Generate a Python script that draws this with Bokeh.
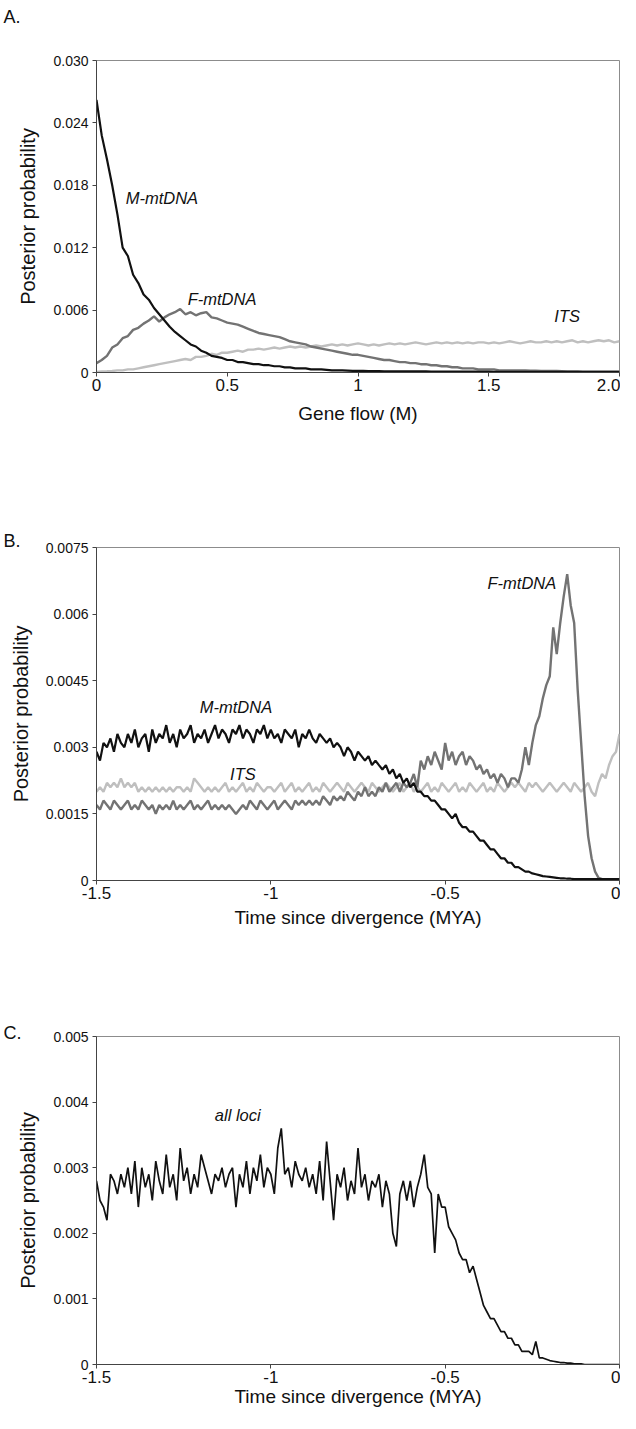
import numpy as np
from bokeh.plotting import figure
from bokeh.layouts import column
from bokeh.models import Range1d, FixedTicker, Label
from bokeh.embed import file_html
from bokeh.resources import INLINE

# ---------------- data ----------------
# Panel A: gene flow grid (M), step 0.02
gene_flow = np.round(np.arange(0, 2.0001, 0.02), 2)
a_m_mtdna = [0.0262, 0.0228, 0.0205, 0.0180, 0.0152, 0.0120, 0.0112, 0.0094, 0.0086, 0.0075,
             0.0070, 0.0062, 0.0056, 0.0050, 0.0044, 0.0039, 0.0035, 0.0031, 0.0027, 0.0025,
             0.0021, 0.0019, 0.0016, 0.0015, 0.0014, 0.0012, 0.0012, 0.0010, 0.0010, 0.0009,
             0.0008, 0.0008, 0.0007, 0.0007, 0.0006, 0.0006, 0.0005, 0.0005, 0.0004, 0.0004,
             0.0004, 0.0003, 0.0003, 0.0003, 0.00025, 0.0002, 0.0002, 0.0002, 0.00018, 0.00016,
             0.00015, 0.00015, 0.00014, 0.00013, 0.00013, 0.00012, 0.00012, 0.00011, 0.00011, 0.0001,
             0.0001, 0.0001, 0.0001, 0.0001, 0.00009, 0.00009, 0.00009, 0.00009, 0.00008, 0.00008,
             0.00008, 0.00008, 0.00008, 0.00008, 0.00008, 0.00008, 0.00007, 0.00007, 0.00007, 0.00007,
             0.00007, 0.00007, 0.00006, 0.00006, 0.00006, 0.00006, 0.00006, 0.00006, 0.00006, 0.00006,
             0.00005, 0.00005, 0.00005, 0.00005, 0.00005, 0.00005, 0.00005, 0.00005, 0.00005, 0.00005,
             0.00005]
a_f_mtdna = [0.0009, 0.0012, 0.0016, 0.0024, 0.0027, 0.0033, 0.0035, 0.0041, 0.0043, 0.0047,
             0.0050, 0.0054, 0.0049, 0.0053, 0.0056, 0.0058, 0.0061, 0.0056, 0.0058, 0.0055,
             0.0057, 0.0058, 0.0053, 0.0052, 0.0050, 0.0048, 0.0047, 0.0046, 0.0044, 0.0042,
             0.0040, 0.0038, 0.0037, 0.0036, 0.0035, 0.0034, 0.0032, 0.0030, 0.0029, 0.0028,
             0.0027, 0.0025, 0.0024, 0.0023, 0.0022, 0.0021, 0.0020, 0.0019, 0.0018, 0.0017,
             0.0017, 0.0016, 0.0015, 0.0014, 0.0013, 0.0012, 0.0012, 0.0011, 0.0010, 0.0010,
             0.0009, 0.0009, 0.0008, 0.0008, 0.0007, 0.0007, 0.0006, 0.0006, 0.0005, 0.0005,
             0.0004, 0.0004, 0.0004, 0.0003, 0.0003, 0.0003, 0.0003, 0.0002, 0.0002, 0.0002,
             0.0002, 0.0002, 0.0002, 0.00018, 0.00017, 0.00016, 0.00015, 0.00015, 0.00014, 0.00013,
             0.00013, 0.00012, 0.00012, 0.00011, 0.00011, 0.0001, 0.0001, 0.0001, 0.0001, 0.0001,
             0.0001]
a_its = [0.00006, 0.0001, 0.00012, 0.00015, 0.0002, 0.0002, 0.0003, 0.0003, 0.0004, 0.0005,
         0.0006, 0.0007, 0.0008, 0.0009, 0.0010, 0.0011, 0.0012, 0.0013, 0.0012, 0.0015,
         0.0015, 0.0016, 0.0018, 0.0017, 0.0019, 0.0019, 0.0020, 0.0021, 0.0020, 0.0022,
         0.0022, 0.0023, 0.0022, 0.0023, 0.0024, 0.0023, 0.0024, 0.0025, 0.0024, 0.0025,
         0.0024, 0.0025, 0.0026, 0.0025, 0.0026, 0.0027, 0.0026, 0.0027, 0.0026, 0.0027,
         0.0028, 0.0027, 0.0026, 0.0027, 0.0026, 0.0027, 0.0028, 0.0027, 0.0028, 0.0027,
         0.0028, 0.0029, 0.0028, 0.0027, 0.0028, 0.0029, 0.0028, 0.0029, 0.0028, 0.0029,
         0.0028, 0.0029, 0.0028, 0.0029, 0.0029, 0.0028, 0.0029, 0.0028, 0.0029, 0.0030,
         0.0029, 0.0028, 0.0029, 0.0030, 0.0029, 0.0029, 0.0030, 0.0029, 0.0030, 0.0029,
         0.0030, 0.0031, 0.0029, 0.0030, 0.0029, 0.0030, 0.0031, 0.0030, 0.0031, 0.0029,
         0.0030]

# Panels B and C: time since divergence grid (MYA), step 0.01
time_mya = np.round(np.arange(-1.5, 0.0001, 0.01), 2)
b_m_mtdna = [0.0029, 0.0027, 0.0031, 0.0030, 0.0032, 0.0029, 0.0033, 0.0031, 0.0030, 0.0033,
             0.0031, 0.0034, 0.0030, 0.0032, 0.0033, 0.0029, 0.0034, 0.0031, 0.0033, 0.0032,
             0.0035, 0.0031, 0.0033, 0.0030, 0.0034, 0.0032, 0.0033, 0.0035, 0.0031, 0.0033,
             0.0032, 0.0034, 0.0031, 0.0033, 0.0035, 0.0032, 0.0034, 0.0033, 0.0031, 0.0034,
             0.0033, 0.0035, 0.0032, 0.0034, 0.0033, 0.0031, 0.0034, 0.0033, 0.0035, 0.0032,
             0.0034, 0.0032, 0.0033, 0.0031, 0.0034, 0.0033, 0.0032, 0.0034, 0.0030, 0.0033,
             0.0032, 0.0034, 0.0032, 0.0031, 0.0033, 0.0032, 0.0031, 0.0032, 0.0030, 0.0031,
             0.0030, 0.0028, 0.0030, 0.0029, 0.0027, 0.0029, 0.0028, 0.0027, 0.0028, 0.0026,
             0.0027, 0.0026, 0.0025, 0.0026, 0.0024, 0.0025, 0.0023, 0.0024, 0.0022, 0.0023,
             0.0021, 0.0022, 0.0020, 0.0020, 0.0019, 0.0019, 0.0018, 0.0018, 0.0017, 0.0016,
             0.0016, 0.0015, 0.0014, 0.0015, 0.0013, 0.0012, 0.0012, 0.0011, 0.0011, 0.0010,
             0.0009, 0.0009, 0.0008, 0.0007, 0.0007, 0.0006, 0.0005, 0.0005, 0.0004, 0.0004,
             0.0003, 0.0003, 0.00025, 0.0002, 0.0002, 0.00016, 0.00014, 0.00012, 0.0001, 0.00009,
             0.00008, 0.00007, 0.00006, 0.00005, 0.00005, 0.00004, 0.00004, 0.00003, 0.00003, 0.00003,
             0.00003, 0.00003, 0.00003, 0.00003, 0.00003, 0.00003, 0.00003, 0.00003, 0.00003, 0.00003,
             0.00003]
b_f_mtdna = [0.0017, 0.0016, 0.0018, 0.0017, 0.0016, 0.0018, 0.0017, 0.0016, 0.0017, 0.0018,
             0.0016, 0.0017, 0.0016, 0.0018, 0.0017, 0.0016, 0.0017, 0.0015, 0.0017, 0.0016,
             0.0017, 0.0016, 0.0018, 0.0016, 0.0017, 0.0016, 0.0017, 0.0018, 0.0016, 0.0017,
             0.0016, 0.0017, 0.0018, 0.0016, 0.0017, 0.0016, 0.0017, 0.0016, 0.0017, 0.0016,
             0.0015, 0.0016, 0.0017, 0.0016, 0.0018, 0.0017, 0.0016, 0.0018, 0.0017, 0.0016,
             0.0017, 0.0018, 0.0016, 0.0017, 0.0018, 0.0017, 0.0016, 0.0018, 0.0017, 0.0018,
             0.0017, 0.0018, 0.0017, 0.0018, 0.0017, 0.0019, 0.0018, 0.0017, 0.0019, 0.0018,
             0.0019, 0.0018, 0.0020, 0.0019, 0.0018, 0.0020, 0.0019, 0.0021, 0.0019, 0.0020,
             0.0019, 0.0021, 0.0020, 0.0022, 0.0020, 0.0021, 0.0022, 0.0020, 0.0022, 0.0021,
             0.0022, 0.0024, 0.0021, 0.0027, 0.0025, 0.0028, 0.0026, 0.0029, 0.0027, 0.0025,
             0.0031, 0.0027, 0.0029, 0.0026, 0.0028, 0.0029, 0.0026, 0.0028, 0.0027, 0.0025,
             0.0026, 0.0024, 0.0025, 0.0023, 0.0024, 0.0022, 0.0024, 0.0023, 0.0021, 0.0023,
             0.0023, 0.0022, 0.0025, 0.0030, 0.0026, 0.0031, 0.0035, 0.0037, 0.0041, 0.0044,
             0.0046, 0.0057, 0.0051, 0.0058, 0.0064, 0.0069, 0.0062, 0.0058, 0.0043, 0.0031,
             0.0019, 0.0010, 0.0005, 0.0002, 0.00006, 0.00003, 0.00003, 0.00003, 0.00003, 0.00003,
             0.00003]
b_its = [0.0020, 0.0021, 0.0020, 0.0022, 0.0021, 0.0022, 0.0021, 0.0023, 0.0021, 0.0022,
         0.0021, 0.0022, 0.0020, 0.0021, 0.0020, 0.0021, 0.0020, 0.0021, 0.0020, 0.0021,
         0.0020, 0.0021, 0.0020, 0.0021, 0.0021, 0.0020, 0.0021, 0.0020, 0.0023, 0.0022,
         0.0021, 0.0020, 0.0021, 0.0020, 0.0021, 0.0020, 0.0021, 0.0022, 0.0020, 0.0021,
         0.0020, 0.0021, 0.0022, 0.0020, 0.0021, 0.0020, 0.0022, 0.0021, 0.0020, 0.0021,
         0.0021, 0.0020, 0.0021, 0.0022, 0.0020, 0.0021, 0.0022, 0.0020, 0.0021, 0.0020,
         0.0021, 0.0022, 0.0020, 0.0021, 0.0020, 0.0022, 0.0021, 0.0020, 0.0021, 0.0022,
         0.0021, 0.0020, 0.0022, 0.0021, 0.0020, 0.0021, 0.0022, 0.0021, 0.0020, 0.0022,
         0.0021, 0.0020, 0.0021, 0.0022, 0.0021, 0.0020, 0.0021, 0.0022, 0.0020, 0.0021,
         0.0022, 0.0020, 0.0021, 0.0020, 0.0021, 0.0022, 0.0020, 0.0021, 0.0020, 0.0022,
         0.0021, 0.0020, 0.0021, 0.0022, 0.0020, 0.0021, 0.0020, 0.0022, 0.0021, 0.0020,
         0.0021, 0.0022, 0.0020, 0.0021, 0.0020, 0.0022, 0.0021, 0.0020, 0.0021, 0.0022,
         0.0021, 0.0022, 0.0021, 0.0020, 0.0022, 0.0021, 0.0022, 0.0021, 0.0020, 0.0021,
         0.0022, 0.0021, 0.0020, 0.0021, 0.0022, 0.0021, 0.0020, 0.0022, 0.0021, 0.0020,
         0.0021, 0.0022, 0.0020, 0.0019, 0.0022, 0.0024, 0.0023, 0.0026, 0.0028, 0.0029,
         0.0033]
c_all_loci = [0.0028, 0.0025, 0.0024, 0.0022, 0.0029, 0.0028, 0.0026, 0.0029, 0.0027, 0.0030,
              0.0026, 0.0031, 0.0024, 0.0030, 0.0027, 0.0029, 0.0025, 0.0031, 0.0028, 0.0026,
              0.0032, 0.0027, 0.0029, 0.0025, 0.0033, 0.0028, 0.0030, 0.0026, 0.0029, 0.0027,
              0.0032, 0.0030, 0.0028, 0.0026, 0.0029, 0.0028, 0.0030, 0.0027, 0.0029, 0.0030,
              0.0024, 0.0029, 0.0027, 0.0031, 0.0026, 0.0030, 0.0028, 0.0032, 0.0027, 0.0030,
              0.0029, 0.0026, 0.0033, 0.0036, 0.0029, 0.0030, 0.0027, 0.0031, 0.0029, 0.0028,
              0.0030, 0.0027, 0.0029, 0.0026, 0.0031, 0.0025, 0.0034, 0.0028, 0.0022, 0.0029,
              0.0027, 0.0030, 0.0025, 0.0028, 0.0026, 0.0033, 0.0027, 0.0029, 0.0025, 0.0028,
              0.0027, 0.0029, 0.0024, 0.0028, 0.0026, 0.0020, 0.0018, 0.0026, 0.0028, 0.0025,
              0.0028, 0.0024, 0.0027, 0.0029, 0.0032, 0.0027, 0.0026, 0.0017, 0.0026, 0.0024,
              0.0024, 0.0021, 0.0020, 0.0019, 0.0017, 0.0016, 0.0016, 0.0014, 0.0015, 0.0013,
              0.0011, 0.0009, 0.0008, 0.0007, 0.0007, 0.0006, 0.0005, 0.0005, 0.0004, 0.0004,
              0.0003, 0.0003, 0.0002, 0.0002, 0.0002, 0.00015, 0.00035, 0.0001, 0.0001, 0.00008,
              0.00006, 0.00005, 0.00004, 0.00003, 0.00003, 0.00002, 0.00002, 0.00001, 0.00001, 0.00001,
              0, 0, 0, 0, 0, 0, 0, 0, 0, 0,
              0]

a_yticks = [0, 0.006, 0.012, 0.018, 0.024, 0.03]
a_ylabels = ["0", "0.006", "0.012", "0.018", "0.024", "0.030"]
a_xticks = [0, 0.5, 1, 1.5, 2]
a_xlabels = ["0", "0.5", "1", "1.5", "2.0"]
b_yticks = [0, 0.0015, 0.003, 0.0045, 0.006, 0.0075]
b_ylabels = ["0", "0.0015", "0.003", "0.0045", "0.006", "0.0075"]
c_yticks = [0, 0.001, 0.002, 0.003, 0.004, 0.005]
c_ylabels = ["0", "0.001", "0.002", "0.003", "0.004", "0.005"]
t_xticks = [-1.5, -1, -0.5, 0]
t_xlabels = ["-1.5", "-1", "-0.5", "0"]

FONT = "Liberation Sans"
BLACK = "#111111"
DARK = "#737373"
LIGHT = "#bfbfbf"
LEFT = 96
RIGHT = 1
HEADER_H = 40


def style_title(p, letter, standoff):
    p.title.text = letter
    p.title.align = "left"
    p.title.offset = -(LEFT - 3)
    p.title.text_font = FONT
    p.title.text_font_size = "18px"
    p.title.text_font_style = "normal"
    p.title.text_color = "#111111"
    p.title.standoff = standoff


def make_panel(letter, height, top, bottom, title_standoff,
               xr, yr, xticks, xlabels, yticks, ylabels, xtitle, xlab_standoff):
    p = figure(width=620, height=height, x_range=Range1d(*xr), y_range=Range1d(*yr),
               output_backend="svg", toolbar_location=None,
               min_border_left=LEFT, min_border_right=RIGHT,
               min_border_top=top, min_border_bottom=bottom)
    p.xgrid.visible = False
    p.ygrid.visible = False
    p.outline_line_color = "#8c8c8c"
    p.outline_line_width = 1
    if letter:
        style_title(p, letter, title_standoff)
    p.xaxis.ticker = FixedTicker(ticks=xticks)
    p.xaxis.major_label_overrides = {t: l for t, l in zip(xticks, xlabels)}
    p.yaxis.ticker = FixedTicker(ticks=yticks)
    p.yaxis.major_label_overrides = {t: l for t, l in zip(yticks, ylabels)}
    for ax in (p.xaxis, p.yaxis):
        ax.axis_line_color = "#444444"
        ax.axis_line_width = 1
        ax.major_tick_line_color = "#444444"
        ax.major_tick_in = 0
        ax.major_tick_out = 4
        ax.minor_tick_line_color = None
        ax.major_label_text_font = FONT
        ax.major_label_text_color = "#111111"
        ax.axis_label_text_font = FONT
        ax.axis_label_text_font_style = "normal"
        ax.axis_label_text_color = "#111111"
    p.xaxis.major_label_text_font_size = "17px"
    p.xaxis.major_label_standoff = 2
    p.yaxis.major_label_text_font_size = "14px"
    p.yaxis.major_label_standoff = 4
    p.xaxis.axis_label = xtitle
    p.xaxis.axis_label_text_font_size = "19px"
    p.xaxis.axis_label_standoff = xlab_standoff
    p.yaxis.axis_label = "Posterior probability"
    p.yaxis.axis_label_text_font_size = "20px"
    p.yaxis.axis_label_standoff = 11
    return p


def add_label(p, x, y, text):
    p.add_layout(Label(x=x, y=y, text=text, text_font=FONT, text_font_size="16.5px",
                       text_font_style="italic", text_color="#111111",
                       text_align="center", text_baseline="middle"))


# empty header strip whose title carries the "A." panel letter
head = figure(width=620, height=HEADER_H, x_range=Range1d(0, 1), y_range=Range1d(0, 1),
              output_backend="svg", toolbar_location=None, x_axis_type=None, y_axis_type=None,
              min_border_left=LEFT, min_border_right=RIGHT, min_border_top=0, min_border_bottom=0)
head.outline_line_color = None
head.xgrid.visible = False
head.ygrid.visible = False
style_title(head, "A.", 8)

pa = make_panel(None, 481 - HEADER_H, 60 - HEADER_H, 109, 0, (0, 2), (0, 0.030),
                a_xticks, a_xlabels, a_yticks, a_ylabels, "Gene flow (M)", 9)
pa.line(gene_flow, a_its, line_color=LIGHT, line_width=2.4)
pa.line(gene_flow, a_f_mtdna, line_color=DARK, line_width=2.4)
pa.line(gene_flow, a_m_mtdna, line_color=BLACK, line_width=2.2)
add_label(pa, 0.25, 0.0168, "M-mtDNA")
add_label(pa, 0.48, 0.0071, "F-mtDNA")
add_label(pa, 1.80, 0.0054, "ITS")

pb = make_panel("B.", 493, 66, 94, -6, (-1.5, 0), (0, 0.0075),
                t_xticks, t_xlabels, b_yticks, b_ylabels, "Time since divergence (MYA)", 5)
pb.line(time_mya, b_its, line_color=LIGHT, line_width=2.4)
pb.line(time_mya, b_f_mtdna, line_color=DARK, line_width=2.4)
pb.line(time_mya, b_m_mtdna, line_color=BLACK, line_width=2.2)
add_label(pb, -0.28, 0.0067, "F-mtDNA")
add_label(pb, -1.10, 0.0039, "M-mtDNA")
add_label(pb, -1.08, 0.0024, "ITS")

pc = make_panel("C.", 439, 62, 49, -12, (-1.5, 0), (0, 0.005),
                t_xticks, t_xlabels, c_yticks, c_ylabels, "Time since divergence (MYA)", 0)
pc.line(time_mya, c_all_loci, line_color=BLACK, line_width=1.7)
add_label(pc, -1.095, 0.0038, "all loci")

layout = column(head, pa, pb, pc, spacing=0)
open("out.html", "w").write(file_html(layout, INLINE))
